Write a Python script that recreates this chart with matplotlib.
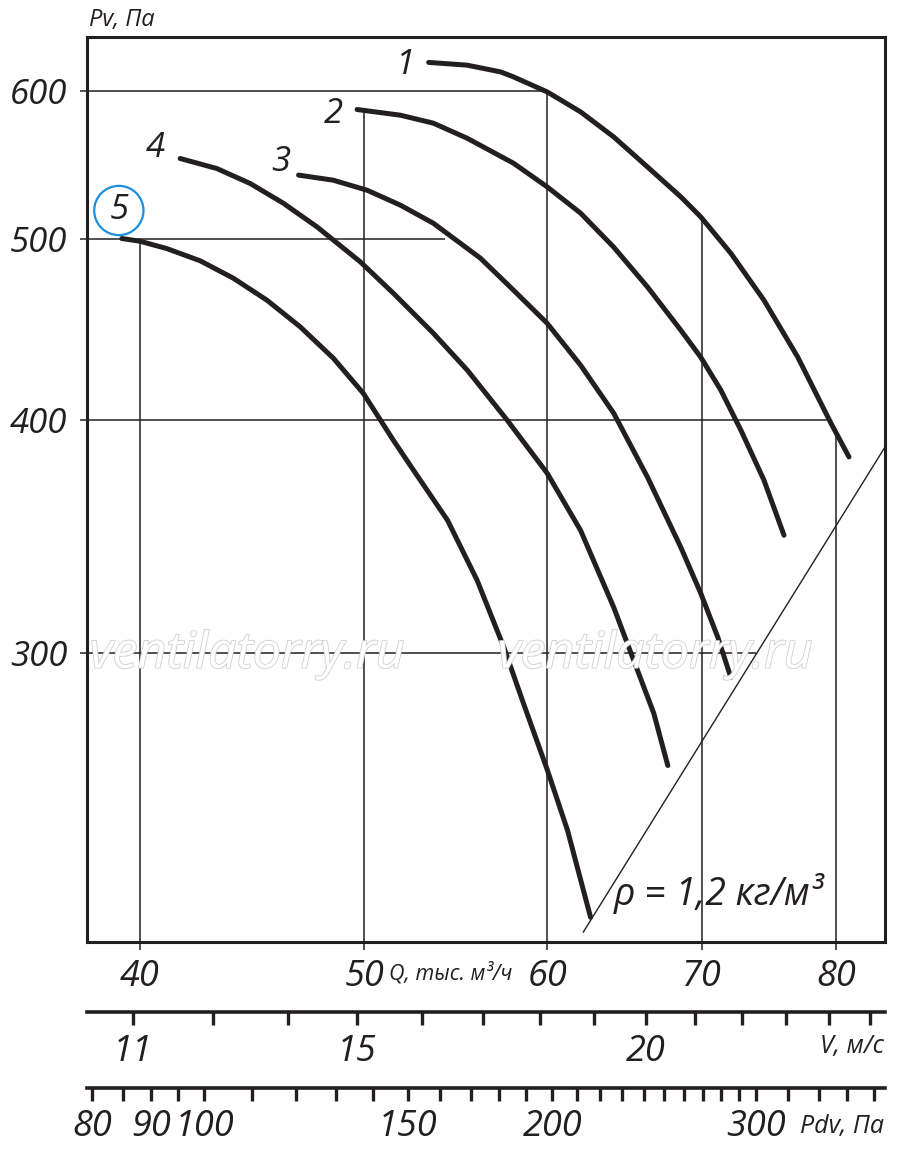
import numpy as np
import matplotlib.pyplot as plt
from matplotlib.ticker import NullLocator, FixedLocator
import matplotlib.patheffects as pe

plt.rcParams['font.family'] = ['Open Sans', 'DejaVu Sans']
plt.rcParams['font.style'] = 'italic'

INK = '#231f20'

# fan curves: Q in thousand m3/h, Pv in Pa
q1 = [53.32, 55.40, 57.27, 58.02, 60.00, 62.03, 64.11, 66.30, 68.54, 69.92,
      72.04, 74.46, 77.00, 79.60, 81.04]
p1 = [621.8, 619.7, 614.6, 610.8, 599.6, 585.0, 567.2, 546.6, 526.8, 513.9,
      491.4, 463.7, 432.4, 398.4, 382.2]
q2 = [49.65, 51.84, 53.57, 55.40, 58.02, 60.00, 62.03, 64.11, 66.30, 68.54,
      69.92, 71.33, 72.77, 74.46, 75.96]
p2 = [586.7, 582.6, 576.9, 566.3, 549.1, 533.3, 516.3, 495.1, 471.4, 446.9,
      432.2, 415.0, 395.0, 371.4, 347.0]
q3 = [46.84, 48.49, 50.15, 51.84, 53.57, 55.40, 56.14, 58.02, 60.00, 62.03,
      64.11, 66.31, 68.54, 69.92, 71.12, 72.04]
p3 = [541.1, 537.7, 531.1, 521.4, 509.9, 494.4, 488.4, 469.5, 450.7, 428.0,
      403.4, 372.7, 341.9, 323.0, 305.9, 291.2]
q4 = [41.63, 43.18, 44.64, 46.13, 47.71, 49.81, 51.48, 53.57, 55.42, 57.66,
      60.00, 62.03, 64.11, 65.40, 66.72, 67.66]
p4 = [552.3, 545.5, 535.5, 522.7, 507.6, 486.2, 467.7, 445.2, 425.3, 399.9,
      374.6, 349.1, 317.5, 297.4, 278.6, 261.2]
q5 = [39.28, 40.00, 41.08, 42.47, 43.89, 45.39, 46.92, 48.49, 49.96, 51.48,
      52.52, 54.33, 55.96, 57.46, 58.60, 60.02, 61.23, 62.65]
p5 = [500.4, 498.7, 494.2, 486.8, 476.5, 463.7, 448.7, 431.7, 413.4, 390.1,
      376.0, 353.5, 328.2, 302.3, 282.0, 259.6, 241.1, 216.6]
curve_names = ['1', '2', '3', '4', '5']

# rho = 1.2 line
dens_q = [62.2, 84.0]
dens_p = [212.7, 386.9]

# axis ticks
q_ticks = [40, 50, 60, 70, 80]
p_ticks = [300, 400, 500, 600]
v_ticks = [12, 13, 14, 15, 16, 17, 18, 19, 20, 21, 22, 23, 24, 25]
v_labels = {12: '11', 15: '15', 20: '20'}
pdv_ticks = [80, 85, 90, 95, 100, 110, 120, 130, 140, 150, 160, 170, 180, 190,
             200, 210, 220, 230, 240, 250, 260, 270, 280, 290, 300,
             320, 340, 360, 380]
pdv_labels = {80: '80', 90: '90', 100: '100', 150: '150', 200: '200', 300: '300'}

# grid segments ending on the curves
vgrid_top = [500, 588, 601, 512, 394]
hgrid_right = [73.9, 79.3, 54.2, 60.0]

# scale relations of the lower axes
V_PER_Q = 20 / 66.2
Q_AT_PDV200 = 60.3

q_lim = (37.94, 84.0)
p_lim = (210.1, 641.6)


def q_to_v(q):
    return np.asarray(q) * V_PER_Q


def v_to_q(v):
    return np.asarray(v) / V_PER_Q


def q_to_pdv(q):
    return 200 * (np.asarray(q) / Q_AT_PDV200) ** 2


def pdv_to_q(p):
    return Q_AT_PDV200 * np.sqrt(np.maximum(np.asarray(p), 1e-9) / 200)


fig = plt.figure(figsize=(9, 11.5), dpi=100)
ax = fig.add_axes([87 / 900, 1 - 942 / 1150, 798 / 900, 905 / 1150])
ax.set_xscale('log')
ax.set_yscale('log')
ax.set_xlim(*q_lim)
ax.set_ylim(*p_lim)

ax.vlines(q_ticks, p_lim[0], vgrid_top, color=INK, lw=1.1, zorder=2)
ax.hlines(p_ticks, q_lim[0], hgrid_right, color=INK, lw=1.1, zorder=2)
ax.plot(dens_q, dens_p, color=INK, lw=1.0, zorder=2)

curves = [(q1, p1), (q2, p2), (q3, p3), (q4, p4), (q5, p5)]
# label offsets from the curve start, pixels (right, up)
offsets = [(-23, -3), (-24, -4), (-18, 13), (-25, 10), (-3, 28)]
for (q, p), name, off in zip(curves, curve_names, offsets):
    ax.plot(q, p, color=INK, lw=3.6, solid_capstyle='round',
            solid_joinstyle='round', zorder=3)
    kw = {}
    if name == '5':
        kw['bbox'] = dict(boxstyle='circle,pad=0.22', fc='none', ec='#1b8fdc', lw=1.6)
    ax.annotate(name, (q[0], p[0]), xytext=off,
                textcoords='offset pixels', ha='center', va='center',
                fontsize=25, color=INK, **kw)

ax.text(0.66, 0.054, 'ρ = 1,2 кг/м³', transform=ax.transAxes,
        fontsize=27, color=INK, ha='left', va='center')

for s in ax.spines.values():
    s.set_linewidth(2.2)
    s.set_color(INK)

ax.xaxis.set_major_locator(FixedLocator(q_ticks))
ax.xaxis.set_minor_locator(NullLocator())
ax.yaxis.set_major_locator(FixedLocator(p_ticks))
ax.yaxis.set_minor_locator(NullLocator())
ax.set_xticklabels([str(t) for t in q_ticks])
ax.set_yticklabels([str(t) for t in p_ticks])
ax.tick_params(axis='x', length=6, width=1.1, color=INK, pad=6, labelsize=26,
               labelcolor=INK)
ax.tick_params(axis='y', length=5, width=1.1, color=INK, pad=9, labelsize=25,
               labelcolor=INK)

# lower scales
secv = ax.secondary_xaxis(-0.0773, functions=(q_to_v, v_to_q))
secv.xaxis.set_major_locator(FixedLocator(v_ticks))
secv.xaxis.set_minor_locator(NullLocator())
secv.set_xticklabels([v_labels.get(t, '') for t in v_ticks])
secv.spines['bottom'].set_linewidth(2.6)
secv.spines['bottom'].set_color(INK)
secv.tick_params(length=9, width=2.4, color=INK, pad=7, labelsize=26,
                 labelcolor=INK)

secp = ax.secondary_xaxis(-0.1613, functions=(q_to_pdv, pdv_to_q))
secp.xaxis.set_major_locator(FixedLocator(pdv_ticks))
secp.xaxis.set_minor_locator(NullLocator())
secp.set_xticklabels([pdv_labels.get(t, '') for t in pdv_ticks])
secp.spines['bottom'].set_linewidth(2.6)
secp.spines['bottom'].set_color(INK)
secp.tick_params(length=9, width=2.4, color=INK, pad=6, labelsize=26,
                 labelcolor=INK)

# axis captions
fig.text(89 / 900, 1 - 20 / 1150, 'Pv, Па', fontsize=17, color=INK,
         ha='left', va='center')
fig.text(389 / 900, 1 - 973 / 1150, 'Q, тыс. м³/ч', fontsize=15.5, color=INK,
         ha='left', va='center')
fig.text(884 / 900, 1 - 1047 / 1150, 'V, м/с', fontsize=18, color=INK,
         ha='right', va='center')
fig.text(884 / 900, 1 - 1127 / 1150, 'Pdv, Па', fontsize=18, color=INK,
         ha='right', va='center')

# watermark
for xc in (247, 655):
    fig.text(xc / 900, 1 - 655 / 1150, 'ventilatorry.ru', fontsize=36,
             color='white', ha='center', va='center', zorder=0.5,
             path_effects=[pe.withStroke(linewidth=1.2, foreground='#cfcfcf')])

fig.savefig('out.png', dpi=100)
